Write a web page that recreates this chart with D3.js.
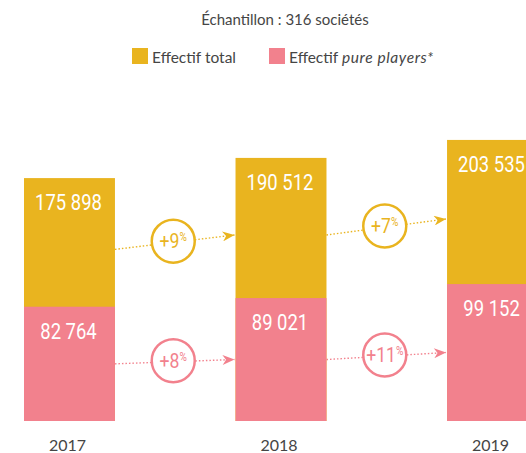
<!DOCTYPE html>
<html>
<head>
<meta charset="utf-8">
<script src="https://cdn.jsdelivr.net/npm/d3@7"></script>
<style>
  html, body { margin: 0; padding: 0; background: #fff; }
  svg { display: block; }
</style>
</head>
<body>
<svg id="chart" width="526" height="453"></svg>
<script>
const years = ["2017", "2018", "2019"];
const totalValues = [175898, 190512, 203535];
const pureValues = [82764, 89021, 99152];
const totalGrowth = ["+9", "+7"];
const pureGrowth = ["+8", "+11"];
const titleText = "Échantillon : 316 sociétés";

const GOLD = "#E9B41F";
const PINK = "#F2818D";
const TEXT = "#454545";
const labelFont = "Roboto, 'Noto Sans', sans-serif";
const textFont = "Lato, 'Noto Sans', sans-serif";
const SQUEEZE = 0.84;

const svg = d3.select("#chart");

const x = d3.scaleBand().domain(years).range([24, 538]).paddingInner(0.57).paddingOuter(0);
const y = d3.scaleLinear().domain([0, 210000]).range([421, 131]);

const fmt = v => d3.format(",")(v).replace(/,/g, " ");

// Title
svg.append("text").attr("x", 285).attr("y", 25).attr("text-anchor", "middle")
  .attr("font-family", textFont).attr("font-size", 15).attr("fill", TEXT).text(titleText);

// Legend
const legend = [
  {x: 132, color: GOLD, parts: [["Effectif total", "normal", 0]]},
  {x: 269, color: PINK, parts: [["Effectif ", "normal", 0], ["pure players*", "italic", 0.6]]}
];
legend.forEach(l => {
  svg.append("rect").attr("x", l.x).attr("y", 48).attr("width", 16).attr("height", 16).attr("fill", l.color);
  const t = svg.append("text").attr("x", l.x + 20).attr("y", 63)
    .attr("font-family", textFont).attr("font-size", 15.5).attr("fill", TEXT);
  l.parts.forEach(p => t.append("tspan").attr("font-style", p[1]).attr("letter-spacing", p[2]).text(p[0]));
});

// Bars
const data = years.map((yr, i) => ({year: yr, total: totalValues[i], pure: pureValues[i]}));
const g = svg.append("g");
g.selectAll("rect.total").data(data).join("rect").attr("class", "total")
  .attr("x", d => x(d.year)).attr("width", x.bandwidth())
  .attr("y", d => y(d.total)).attr("height", d => y(0) - y(d.total)).attr("fill", GOLD);
g.selectAll("rect.pure").data(data).join("rect").attr("class", "pure")
  .attr("x", d => x(d.year)).attr("width", x.bandwidth())
  .attr("y", d => y(d.pure)).attr("height", d => y(0) - y(d.pure)).attr("fill", PINK);

// Value labels (condensed)
function valueLabel(cls, accessor) {
  g.selectAll("text." + cls).data(data).join("text").attr("class", cls)
    .attr("transform", d => `translate(${x(d.year) + x.bandwidth() / 2 - 1},${y(accessor(d)) + 32}) scale(${SQUEEZE},1)`)
    .attr("text-anchor", "middle").attr("font-family", labelFont).attr("font-size", 22)
    .attr("fill", "#fff").text(d => fmt(accessor(d)));
}
valueLabel("tv", d => d.total);
valueLabel("pv", d => d.pure);

// Year labels
svg.selectAll("text.year").data(years).join("text").attr("class", "year")
  .attr("x", d => x(d) + x.bandwidth() / 2 - 2).attr("y", 451)
  .attr("text-anchor", "middle").attr("font-family", textFont).attr("font-size", 16)
  .attr("fill", TEXT).text(d => d);

// Arrow markers
const defs = svg.append("defs");
[["gold", GOLD], ["pink", PINK]].forEach(([id, c]) => {
  defs.append("marker").attr("id", "arr-" + id).attr("viewBox", "0 0 12 10")
    .attr("refX", 12).attr("refY", 5).attr("markerWidth", 13).attr("markerHeight", 10)
    .attr("markerUnits", "userSpaceOnUse").attr("orient", "auto")
    .append("path").attr("d", "M0,0 L12,5 L0,10 L3.5,5 Z").attr("fill", c);
});

function arrow(i, yStart, yEnd, color, id, label) {
  const x1 = x(years[i]) + x.bandwidth();
  const x2 = x(years[i + 1]) - 1;
  svg.append("line").attr("x1", x1).attr("y1", yStart).attr("x2", x2).attr("y2", yEnd)
    .attr("stroke", color).attr("stroke-width", 1.4).attr("stroke-dasharray", "1.5,2")
    .attr("marker-end", `url(#arr-${id})`);
  const cx = (x1 + x2) / 2 - 1.5, cy = (yStart + yEnd) / 2 - 1;
  svg.append("circle").attr("cx", cx).attr("cy", cy).attr("r", 21.5)
    .attr("fill", "#fff").attr("stroke", color).attr("stroke-width", 2.5);
  const t = svg.append("text")
    .attr("transform", `translate(${cx},${cy + 7}) scale(${SQUEEZE},1)`)
    .attr("text-anchor", "middle").attr("font-family", labelFont).attr("fill", color);
  t.append("tspan").attr("font-size", 21).text(label);
  t.append("tspan").attr("font-size", 12).attr("dy", -7).text("%");
}

for (let i = 0; i < years.length - 1; i++) {
  const ga = (y(totalValues[i]) + y(pureValues[i])) / 2 + 7;
  const gb = (y(totalValues[i + 1]) + y(pureValues[i + 1])) / 2 + 7;
  arrow(i, ga, gb, GOLD, "gold", totalGrowth[i]);
  const pa = (y(pureValues[i]) + y(0)) / 2;
  const pb = (y(pureValues[i + 1]) + y(0)) / 2;
  arrow(i, pa, pb, PINK, "pink", pureGrowth[i]);
}
</script>
</body>
</html>
